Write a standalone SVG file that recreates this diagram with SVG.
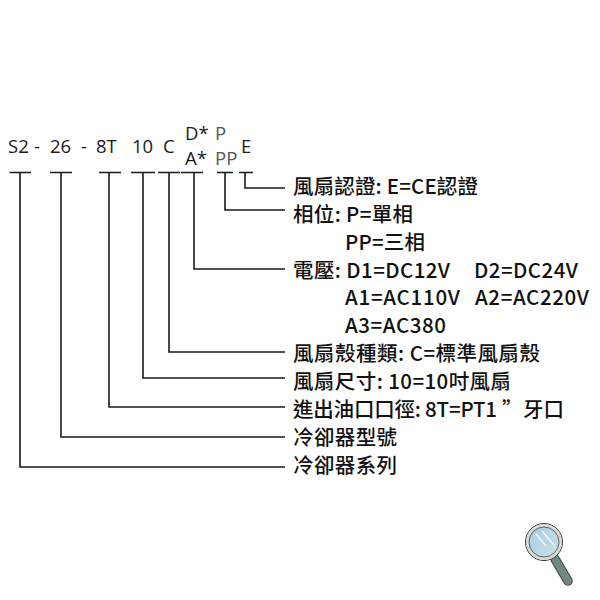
<svg xmlns="http://www.w3.org/2000/svg" width="600" height="600" viewBox="0 0 600 600">
<defs>
<linearGradient id="glass" x1="0" y1="0" x2="1" y2="1"><stop offset="0" stop-color="#a3cbdf"/><stop offset="1" stop-color="#cfe2e9"/></linearGradient>
</defs>
<style>
.c{fill:none;stroke:#1a1a1a;stroke-width:1.6}
.t{font-family:"Noto Sans CJK TC","Noto Sans",sans-serif;font-size:20.5px;font-weight:500;fill:#111}
.k{font-family:"Open Sans","Noto Sans",sans-serif;font-size:18.5px;font-weight:500;fill:#1a1a1a}
.g{fill:#555;font-weight:400}
</style>
<rect width="600" height="600" fill="#fff"/>
<g id="connectors">
<path class="c" d="M9.5 172.5H31M20 172.5V467H285"/>
<path class="c" d="M50 172.5H72M61 172.5V437H285"/>
<path class="c" d="M99 172.5H121M109 172.5V407H285"/>
<path class="c" d="M131 172.5H155M143 172.5V378H285"/>
<path class="c" d="M158 172.5H180M169 172.5V352H285"/>
<path class="c" d="M181 172.5H203M194 172.5V269H285"/>
<path class="c" d="M217 172.5H233M225 172.5V210H285"/>
<path class="c" d="M239 172.5H253M245 172.5V188H285"/>
</g>
<g id="code">
<text class="k" x="8" y="153">S2</text><text class="k" x="34" y="153">-</text>
<text class="k" x="50" y="153">26</text><text class="k" x="81" y="153">-</text>
<text class="k" x="96" y="153">8T</text>
<text class="k" x="132" y="153">10</text>
<text class="k" x="163" y="153">C</text>
<text class="k" x="185" y="140">D*</text>
<text class="k" x="185" y="165">A*</text>
<text class="k g" x="215" y="140">P</text>
<text class="k g" x="215" y="165">PP</text>
<text class="k" x="241" y="153">E</text>
</g>
<g id="n-cert"><text class="t" x="293" y="194" textLength="185">風扇認證: E=CE認證</text></g>
<g id="n-phase"><text class="t" x="293" y="222" textLength="120">相位: P=單相</text><text class="t" x="345" y="250" textLength="80">PP=三相</text></g>
<g id="n-voltage"><text class="t" x="293" y="278" textLength="157">電壓: D1=DC12V</text><text class="t" x="474" y="278" textLength="104">D2=DC24V</text>
<text class="t" x="345" y="305" textLength="115">A1=AC110V</text><text class="t" x="475" y="305" textLength="114">A2=AC220V</text>
<text class="t" x="345" y="333" textLength="101">A3=AC380</text></g>
<g id="n-shell"><text class="t" x="293" y="361" textLength="247">風扇殼種類: C=標準風扇殼</text></g>
<g id="n-size"><text class="t" x="293" y="389" textLength="218">風扇尺寸: 10=10吋風扇</text></g>
<g id="n-port"><text class="t" x="293" y="417" textLength="204">進出油口口徑: 8T=PT1</text><text class="t" x="502" y="417">”</text><text class="t" x="523" y="417" textLength="41">牙口</text></g>
<g id="n-model"><text class="t" x="293" y="445" textLength="104">冷卻器型號</text></g>
<g id="n-series"><text class="t" x="293" y="473" textLength="104">冷卻器系列</text></g>
<g id="magnifier">
<path d="M555 559L568 581" stroke="#3a4540" stroke-width="9.5" stroke-linecap="round"/>
<path d="M555 559L568 581" stroke="#73897f" stroke-width="7.5" stroke-linecap="round"/>
<circle cx="544" cy="542" r="18.5" fill="url(#glass)" stroke="#333" stroke-width="1"/>
<circle cx="544" cy="542" r="16.5" fill="none" stroke="#d8d8d4" stroke-width="3"/>
<circle cx="544" cy="542" r="15" fill="none" stroke="#444" stroke-width=".8"/>
<path d="M536 534L546 546M542 531L554 545" stroke="#fff" stroke-width="1.6" opacity=".8"/>
</g>
</svg>
